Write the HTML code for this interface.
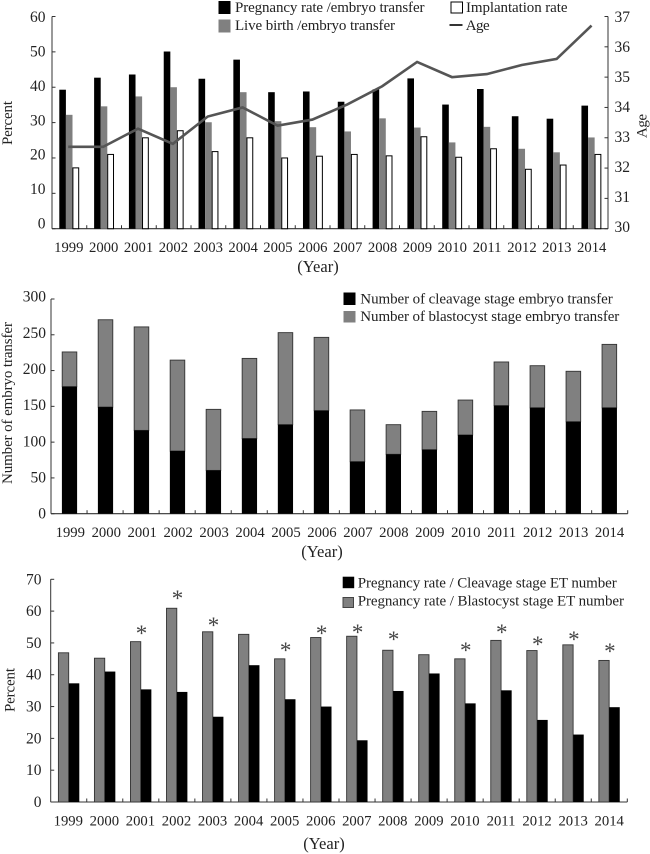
<!DOCTYPE html>
<html lang="en">
<head>
<meta charset="utf-8">
<title>IVF outcomes by year 1999-2014</title>
<style>
html,body{margin:0;padding:0;background:#fff;width:650px;height:854px;overflow:hidden}
svg{display:block;filter:blur(.35px)}
text{font-family:"Liberation Serif",serif;fill:#222;font-size:15px}
</style>
</head>
<body>
<svg id="fig" width="650" height="854" viewBox="0 0 650 854" xmlns="http://www.w3.org/2000/svg">
  <rect width="650" height="854" fill="#fff"/>

  <g id="chart1"></g>
  <g id="chart2"></g>
  <g id="chart3"></g>

  <g>
    <rect x="218.5" y="1" width="12" height="13" fill="#000"/>
    <text x="235" y="12" textLength="189.5" lengthAdjust="spacing">Pregnancy rate /embryo transfer</text>
    <rect x="218.5" y="19.5" width="12" height="13" fill="#808080"/>
    <text x="235" y="30" textLength="160" lengthAdjust="spacing">Live birth /embryo transfer</text>
    <rect x="451" y="2" width="11.5" height="11" fill="#fff" stroke="#000" stroke-width="1"/>
    <text x="466" y="12" textLength="101.5" lengthAdjust="spacing">Implantation rate</text>
    <line x1="449.5" x2="462.5" y1="25" y2="25" stroke="#000" stroke-width="1.6"/>
    <text x="465.7" y="30" textLength="24" lengthAdjust="spacing">Age</text>
  </g>

  <g>
    <rect x="343.5" y="292.5" width="12" height="12.5" fill="#000"/>
    <text x="360.3" y="303.3" textLength="252.4" lengthAdjust="spacing">Number of cleavage stage embryo transfer</text>
    <rect x="343.5" y="311" width="12" height="11.5" fill="#808080"/>
    <text x="360.3" y="321" textLength="259" lengthAdjust="spacing">Number of blastocyst stage embryo transfer</text>
  </g>

  <g>
    <rect x="342.7" y="576.7" width="11.5" height="11.5" fill="#000"/>
    <text x="357.7" y="587.7" textLength="259" lengthAdjust="spacing">Pregnancy rate / Cleavage stage ET number</text>
    <rect x="343" y="597.5" width="10.5" height="10" fill="#808080" stroke="#444" stroke-width="1"/>
    <text x="357.7" y="605.7" textLength="266.3" lengthAdjust="spacing">Pregnancy rate / Blastocyst stage ET number</text>
  </g>
</svg>
<script>
const years = ["1999","2000","2001","2002","2003","2004","2005","2006","2007","2008","2009","2010","2011","2012","2013","2014"];

const pregnancyRate = [39.3,42.7,43.6,50.1,42.4,47.8,38.6,38.8,35.9,39.4,42.5,35.1,39.5,31.8,31.1,34.8];
const liveBirthRate = [32.2,34.6,37.4,40.0,30.1,38.6,30.4,28.7,27.5,31.2,28.6,24.4,28.8,22.6,21.6,25.8];
const implantationRate = [17.2,21.0,25.7,27.7,21.8,25.7,20.0,20.5,21.0,20.6,26.0,20.2,22.6,16.8,18.0,21.0];
const ageValues = [32.7,32.7,33.3,32.8,33.7,34.0,33.4,33.6,34.1,34.7,35.5,35.0,35.1,35.4,35.6,36.7];
const percentTicks = [0,10,20,30,40,50,60];
const ageTicks = [30,31,32,33,34,35,36,37];

const cleavageCount = [177.5,149,116.4,87.6,60.5,105,124.4,144,72.7,83,89.4,110,151,148,128.5,148];
const blastocystCount = [48.5,122,144.6,127,85.3,112,128.6,102.4,72.3,41.4,53.6,48.8,61,58.8,70.5,88.6];
const countTicks = [0,50,100,150,200,250,300];

const blastocystRate = [46.9,45.2,50.4,60.9,53.5,52.7,45.0,51.7,52.1,47.7,46.3,45.0,50.8,47.6,49.4,44.5];
const cleavageRate = [37.3,41.0,35.4,34.6,26.8,43.0,32.3,30.0,19.4,34.9,40.4,31.0,35.1,25.8,21.2,29.8];
const starLevels = [null,null,53.5,64.5,55.9,null,48.1,53.5,53.7,51.6,null,48.1,53.7,50.0,51.6,47.8];
const rateTicks = [0,10,20,30,40,50,60,70];

const NS = "http://www.w3.org/2000/svg";
function mk(tag, parent, props) {
  const el = document.createElementNS(NS, tag);
  for (const k in props) el.setAttribute(k, props[k]);
  parent.appendChild(el);
  return el;
}
function linear(d0, d1, r0, r1) {
  return v => r0 + (v - d0) * (r1 - r0) / (d1 - d0);
}
function drawFrame(g, o) {
  const yAxis = mk("line", g, {x1:o.left,x2:o.left,y1:o.top,y2:o.bottom,stroke:"#333","stroke-width":1});
  
  
  const xAxis = mk("line", g, {x1:o.left,x2:o.right,y1:o.bottom,y2:o.bottom,stroke:"#333","stroke-width":1.1});
  
  
  o.ticks.forEach(t => {
    const tm = mk("line", g, {x1:o.left,x2:o.left+3.5,y1:o.y(t),y2:o.y(t),stroke:"#333","stroke-width":1});
    
    
    const lb = mk("text", g, {x:o.labelRight,y:o.labelY(t)+5,"text-anchor":"end",style:"font-size:"+o.fs+"px"});
    
    
    lb.textContent = t;
  });
  const step = (o.right - o.left) / years.length;
  years.forEach((yr, i) => {
    const tx = o.left + step * (i + 1);
    const tm = mk("line", g, {x1:tx,x2:tx,y1:o.bottom,y2:o.bottom-3.5,stroke:"#333","stroke-width":1});
    
    
    const lb = mk("text", g, {x:o.xLabel(i),y:o.tickBase,"text-anchor":"middle",style:"font-size:14.7px"});
    
    
    lb.textContent = yr;
  });
  const yt = mk("text", g, {x:o.yearX,y:o.yearBase,"text-anchor":"middle",style:"font-size:16.5px"});
  
  
  yt.textContent = "(Year)";
  const at = mk("text", g, {transform:"translate("+o.titleX+" "+o.titleY+") rotate(-90)","text-anchor":"middle",textLength:o.titleLen,lengthAdjust:"spacing"});
  
  
  at.textContent = o.title;
}

/* Chart 1 */
(function () {
  const g = document.getElementById("chart1");
  const left = 52, right = 608, top = 16.5, bottom = 228.7;
  const y = linear(0, 60, bottom, top);
  const yAge = linear(30, 37, bottom, top);
  const labelY = linear(0, 60, 223.5, 17);
  const cx = i => 69.2 + i * 34.81;
  drawFrame(g, {left,right,top,bottom,y,labelY,ticks:percentTicks,labelRight:45.5,fs:15.5,
    xLabel:i => 68.8 + i * 34.86,tickBase:252,yearX:318,yearBase:272,
    titleX:12,titleY:123,titleLen:44,title:"Percent"});
  const w = 6.6;
  years.forEach((yr, i) => {
    const x0 = cx(i) - 1.5 * w;
    const a = mk("rect", g, {x:x0,y:y(pregnancyRate[i]),width:w,height:bottom-y(pregnancyRate[i]),fill:"#000"});
    
    
    const b = mk("rect", g, {x:x0+w,y:y(liveBirthRate[i]),width:w,height:bottom-y(liveBirthRate[i]),fill:"#7f7f7f"});
    
    
    const c = mk("rect", g, {x:x0+2*w+.4,y:y(implantationRate[i]),width:w-.8,height:bottom-y(implantationRate[i]),fill:"#fff",stroke:"#000","stroke-width":1});
    
    
  });
  const pts = ageValues.map((v, i) => (cx(i) + i * 0.08 - 1) + "," + yAge(v)).join(" ");
  const line = mk("polyline", g, {points:pts,fill:"none",stroke:"#555","stroke-width":2.6,"stroke-linejoin":"miter"});
  
  
  const rAxis = mk("line", g, {x1:right,x2:right,y1:top,y2:bottom,stroke:"#333","stroke-width":1});
  
  
  const ageLabelY = linear(30, 37, 227, 17);
  ageTicks.forEach(t => {
    const tm = mk("line", g, {x1:right,x2:right-3.5,y1:yAge(t),y2:yAge(t),stroke:"#333","stroke-width":1});
    
    
    const lb = mk("text", g, {x:614.5,y:ageLabelY(t)+5,style:"font-size:15.5px"});
    
    
    lb.textContent = t;
  });
  const at = mk("text", g, {transform:"translate(646.5 126) rotate(-90)","text-anchor":"middle",textLength:24,lengthAdjust:"spacing"});
  
  
  at.textContent = "Age";
})();

/* Chart 2 */
(function () {
  const g = document.getElementById("chart2");
  const left = 51, right = 627.7, top = 299, bottom = 513.7;
  const y = linear(0, 300, bottom, top);
  const labelY = linear(0, 300, 513.7, 296.7);
  const cx = i => 69.5 + i * 35.99;
  drawFrame(g, {left,right,top,bottom,y,labelY,ticks:countTicks,labelRight:46,fs:15.5,
    xLabel:i => 70.3 + i * 35.95,tickBase:537,yearX:322,yearBase:557,
    titleX:12,titleY:403,titleLen:162,title:"Number of embryo transfer"});
  const w = 14.6;
  years.forEach((yr, i) => {
    const total = cleavageCount[i] + blastocystCount[i];
    const a = mk("rect", g, {x:cx(i)-w/2,y:y(total),width:w,height:y(cleavageCount[i])-y(total),fill:"#808080",stroke:"#333","stroke-width":.9});
    
    
    const b = mk("rect", g, {x:cx(i)-w/2-.3,y:y(cleavageCount[i]),width:w+.6,height:bottom-y(cleavageCount[i]),fill:"#000"});
    
    
  });
})();

/* Chart 3 */
(function () {
  const g = document.getElementById("chart3");
  const left = 50.7, right = 627.3, top = 579.3, bottom = 802;
  const y = linear(0, 70, bottom, top);
  const cx = i => 68.8 + i * 36.03;
  drawFrame(g, {left,right,top,bottom,y,labelY:y,ticks:rateTicks,labelRight:41.5,fs:15.5,
    xLabel:i => 68.3 + i * 36.06,tickBase:825.5,yearX:324,yearBase:849,
    titleX:14.5,titleY:690,titleLen:44,title:"Percent"});
  const w = 10.5;
  years.forEach((yr, i) => {
    const a = mk("rect", g, {x:cx(i)-w+.1,y:y(blastocystRate[i]),width:w-.2,height:bottom-y(blastocystRate[i]),fill:"#808080",stroke:"#333","stroke-width":.9});
    
    
    const b = mk("rect", g, {x:cx(i),y:y(cleavageRate[i]),width:w,height:bottom-y(cleavageRate[i]),fill:"#000"});
    
    
    if (starLevels[i] !== null) {
      const s = mk("text", g, {x:cx(i)+.6,y:y(starLevels[i])+9,"text-anchor":"middle",style:"font-size:23px;fill:#444"});
      
      
      s.textContent = "*";
    }
  });
})();
</script>
</body>
</html>
